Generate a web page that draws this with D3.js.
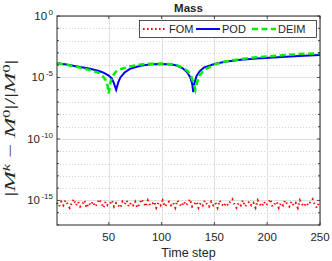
<!DOCTYPE html>
<html>
<head>
<meta charset="utf-8">
<script src="https://cdn.jsdelivr.net/npm/d3@7"></script>
<style>
  body { margin: 0; background: #fff; }
  text { font-family: "Liberation Sans", Arial, sans-serif; fill: #262626; }
</style>
</head>
<body>
<div id="chart"></div>
<script>
// Time steps and log10 errors
var podSteps = [1, 10, 20, 30, 40, 45, 50, 53, 55, 57, 59, 61, 65, 70, 80, 90, 100, 110, 115, 120, 124, 127, 129, 130, 131, 133, 136, 140, 150, 160, 175, 190, 210, 230, 250];
var podLog = [-3.85, -3.95, -4.1, -4.25, -4.45, -4.6, -4.85, -5.1, -5.5, -6.0, -5.4, -5.0, -4.6, -4.3, -4.05, -3.92, -3.9, -3.95, -4.05, -4.25, -4.55, -4.95, -5.5, -6.2, -5.5, -4.9, -4.5, -4.2, -3.9, -3.72, -3.55, -3.45, -3.35, -3.25, -3.17];

var deimSteps = [1, 10, 20, 30, 40, 44, 47, 49, 50, 51, 53, 56, 60, 70, 80, 90, 100, 110, 115, 120, 125, 128, 130, 132, 134, 136, 140, 150, 160, 175, 190, 210, 230, 250];
var deimLog = [-3.85, -3.97, -4.15, -4.35, -4.6, -4.85, -5.2, -5.7, -6.3, -5.6, -5.0, -4.6, -4.35, -4.1, -3.95, -3.88, -3.87, -3.93, -4.02, -4.2, -4.5, -4.9, -5.4, -6.0, -5.3, -4.85, -4.4, -3.95, -3.7, -3.5, -3.35, -3.22, -3.1, -3.02];

// FOM error, every second time step (1, 3, 5, ...)
var fomLog = [
  -15.2, -15.5, -15.1, -15.4, -15.0, -15.3, -15.6, -15.2, -14.9, -15.4,
  -15.1, -15.5, -15.3, -15.0, -15.6, -15.2, -15.4, -15.1, -15.5, -15.3,
  -14.9, -15.2, -15.6, -15.1, -15.4, -15.3, -15.0, -15.5, -15.2, -15.4,
  -15.6, -15.1, -15.3, -15.0, -15.5, -15.2, -15.4, -15.1, -15.6, -15.3,
  -14.9, -15.2, -15.5, -15.0, -15.4, -15.3, -15.1, -15.6, -15.2, -15.4,
  -15.0, -15.5, -15.3, -15.1, -15.4, -15.2, -15.6, -15.0, -15.3, -15.5,
  -15.1, -15.4, -15.2, -14.9, -15.5, -15.3, -15.1, -15.6, -15.2, -15.4,
  -15.0, -15.3, -15.5, -15.1, -15.4, -15.2, -15.6, -15.0, -15.3, -15.5,
  -15.2, -15.4, -15.1, -14.9, -15.3, -15.6, -15.2, -15.4, -15.0, -15.5,
  -15.3, -15.1, -15.4, -15.2, -15.6, -15.0, -15.3, -15.5, -15.1, -15.4,
  -15.2, -14.9, -15.5, -15.3, -15.1, -15.6, -15.2, -15.4, -15.0, -15.3,
  -15.5, -15.1, -15.4, -15.2, -15.6, -15.0, -15.3, -15.5, -15.2, -15.4,
  -15.1, -14.9, -15.3, -15.6, -15.2
];

// Axis ticks
var xTicks = [50, 100, 150, 200, 250];
var yTickExps = [0, -5, -10, -15];

var svgWidth = 332;
var svgHeight = 261;

var margin = { top: 16, right: 12, bottom: 36, left: 57 };

var chartWidth = svgWidth - margin.left - margin.right;
var chartHeight = svgHeight - margin.top - margin.bottom;

var svg = d3.select("#chart")
  .append("svg")
  .attr("width", svgWidth)
  .attr("height", svgHeight);

var chartGroup = svg.append("g")
  .attr("transform", `translate(${margin.left}, ${margin.top})`);

var xScale = d3.scaleLinear()
  .domain([1, 250])
  .range([0, chartWidth]);

var yScale = d3.scaleLog()
  .domain([1e-17, 1])
  .range([chartHeight, 0]);

// Minor dotted grid at every decade
var decades = d3.range(-16, 0).filter(d => d % 5 !== 0);
chartGroup.append("g")
  .selectAll("line")
  .data(decades)
  .enter()
  .append("line")
  .attr("x1", 0)
  .attr("x2", chartWidth)
  .attr("y1", d => Math.round(yScale(Math.pow(10, d))) + 0.5)
  .attr("y2", d => Math.round(yScale(Math.pow(10, d))) + 0.5)
  .attr("stroke", "#c8c8c8")
  .attr("stroke-width", 0.8)
  .attr("stroke-dasharray", "1,2");

// Major solid grid
chartGroup.append("g")
  .selectAll("line")
  .data(yTickExps)
  .enter()
  .append("line")
  .attr("x1", 0)
  .attr("x2", chartWidth)
  .attr("y1", d => Math.round(yScale(Math.pow(10, d))) + 0.5)
  .attr("y2", d => Math.round(yScale(Math.pow(10, d))) + 0.5)
  .attr("stroke", "#e0e0e0")
  .attr("stroke-width", 1);

chartGroup.append("g")
  .selectAll("line")
  .data(xTicks)
  .enter()
  .append("line")
  .attr("x1", d => Math.round(xScale(d)) + 0.5)
  .attr("x2", d => Math.round(xScale(d)) + 0.5)
  .attr("y1", 0)
  .attr("y2", chartHeight)
  .attr("stroke", "#e0e0e0")
  .attr("stroke-width", 1);

// Lines
var line = d3.line()
  .x(d => xScale(d[0]))
  .y(d => yScale(Math.pow(10, d[1])));

var fomData = fomLog.map((v, i) => [1 + 2 * i, v]);
var podData = podSteps.map((t, i) => [t, podLog[i]]);
var deimData = deimSteps.map((t, i) => [t, deimLog[i]]);

chartGroup.append("path")
  .datum(fomData)
  .attr("d", line)
  .attr("fill", "none")
  .attr("stroke", "#ff0000")
  .attr("stroke-width", 2)
  .attr("stroke-dasharray", "1.4,3");

chartGroup.append("path")
  .datum(podData)
  .attr("d", line)
  .attr("fill", "none")
  .attr("stroke", "#0000ff")
  .attr("stroke-width", 2);

chartGroup.append("path")
  .datum(deimData)
  .attr("d", line)
  .attr("fill", "none")
  .attr("stroke", "#00ee00")
  .attr("stroke-width", 2.5)
  .attr("stroke-dasharray", "6,3.5");

// Axes box
chartGroup.append("rect")
  .attr("x", 0)
  .attr("y", 0)
  .attr("width", chartWidth)
  .attr("height", chartHeight)
  .attr("fill", "none")
  .attr("stroke", "#262626")
  .attr("stroke-width", 1);

// Tick marks, inside, on all four sides
var tickG = chartGroup.append("g").attr("stroke", "#262626").attr("stroke-width", 0.8);
xTicks.forEach(function(t) {
  var x = xScale(t);
  tickG.append("line").attr("x1", x).attr("x2", x).attr("y1", chartHeight).attr("y2", chartHeight - 3);
  tickG.append("line").attr("x1", x).attr("x2", x).attr("y1", 0).attr("y2", 3);
});
d3.range(-17, 1).forEach(function(e) {
  var y = yScale(Math.pow(10, e));
  var len = (e % 5 === 0) ? 3 : 2;
  tickG.append("line").attr("x1", 0).attr("x2", len).attr("y1", y).attr("y2", y);
  tickG.append("line").attr("x1", chartWidth).attr("x2", chartWidth - len).attr("y1", y).attr("y2", y);
});

// X tick labels
chartGroup.append("g")
  .selectAll("text")
  .data(xTicks)
  .enter()
  .append("text")
  .attr("x", d => xScale(d))
  .attr("y", chartHeight + 16)
  .attr("text-anchor", "middle")
  .attr("font-size", "11.5px")
  .text(d => d);

// Y tick labels as 10 with superscript exponent
var yLabels = chartGroup.append("g")
  .selectAll("text")
  .data(yTickExps)
  .enter()
  .append("text")
  .attr("x", -4)
  .attr("y", d => yScale(Math.pow(10, d)) + 4)
  .attr("text-anchor", "end")
  .attr("font-size", "11.5px");
yLabels.append("tspan").text("10");
yLabels.append("tspan")
  .attr("dx", 1.5)
  .attr("dy", -5)
  .attr("font-size", "8px")
  .text(d => d === 0 ? "0" : "-" + Math.abs(d));

// Title
svg.append("text")
  .attr("x", margin.left + chartWidth / 2)
  .attr("y", 12)
  .attr("text-anchor", "middle")
  .attr("font-size", "11.5px")
  .style("font-weight", "bold")
  .attr("fill", "#000")
  .text("Mass");

// X axis label
svg.append("text")
  .attr("x", margin.left + chartWidth / 2)
  .attr("y", 257)
  .attr("text-anchor", "middle")
  .attr("font-size", "12.5px")
  .text("Time step");

// Y axis label (math), stretched a little to the length seen in the picture
var yLab = svg.append("text")
  .attr("transform", "translate(15, 128) rotate(-90)")
  .attr("text-anchor", "middle")
  .attr("font-size", "15px")
  .attr("textLength", 137)
  .attr("lengthAdjust", "spacingAndGlyphs")
  .style("font-family", "'Liberation Serif', 'DejaVu Serif', serif");
yLab.append("tspan").text("|");
yLab.append("tspan").style("font-style", "italic").text("M");
yLab.append("tspan").attr("font-size", "10px").attr("dy", -5.5).style("font-style", "italic").text("k");
yLab.append("tspan").attr("dy", 5.5).text(" − ");
yLab.append("tspan").style("font-style", "italic").text("M");
yLab.append("tspan").attr("font-size", "10px").attr("dy", -5.5).text("0");
yLab.append("tspan").attr("dy", 5.5).text("|/|");
yLab.append("tspan").style("font-style", "italic").text("M");
yLab.append("tspan").attr("font-size", "10px").attr("dy", -5.5).text("0");
yLab.append("tspan").attr("dy", 5.5).text("|");

// Legend
var legend = svg.append("g");
legend.append("rect")
  .attr("x", 139.5)
  .attr("y", 20.5)
  .attr("width", 177)
  .attr("height", 17)
  .attr("fill", "#fff")
  .attr("stroke", "#262626")
  .attr("stroke-width", 0.8);

var legendItems = [
  { name: "FOM", color: "#ff0000", dash: "1.6,2.4", width: 2, x: 143 },
  { name: "POD", color: "#0000ff", dash: null, width: 2, x: 196 },
  { name: "DEIM", color: "#00ee00", dash: "6,3.5", width: 2.5, x: 252 }
];
legendItems.forEach(function(item) {
  legend.append("line")
    .attr("x1", item.x)
    .attr("x2", item.x + 24)
    .attr("y1", 29)
    .attr("y2", 29)
    .attr("stroke", item.color)
    .attr("stroke-width", item.width)
    .attr("stroke-dasharray", item.dash);
  legend.append("text")
    .attr("x", item.x + 26)
    .attr("y", 33)
    .attr("font-size", "11px")
    .attr("fill", "#000")
    .text(item.name);
});
</script>
</body>
</html>
